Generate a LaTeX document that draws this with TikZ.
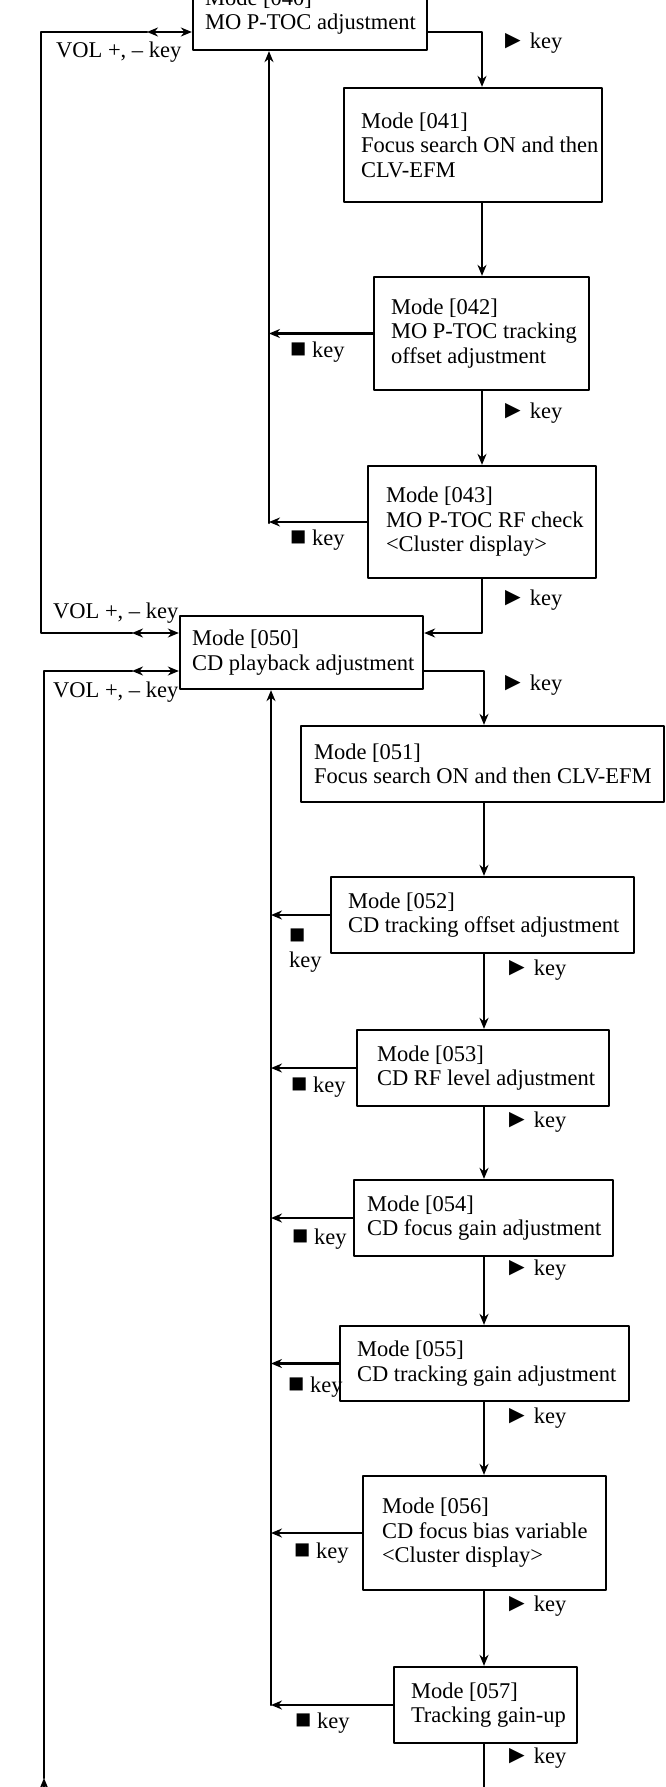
\documentclass[tikz,border=0pt]{standalone}
\usepackage{fontspec}
\setmainfont{Liberation Serif}
\usetikzlibrary{arrows.meta,positioning}
\newcommand{\playkey}{\raisebox{-0.5pt}{\scalebox{1.15}{►}}\hspace{4pt}key}
\newcommand{\stopkey}{\raisebox{-0.5pt}{\scalebox{1.2}{■}}}

\begin{document}
\begin{tikzpicture}[line cap=round,line join=round,line width=2.3pt,>={Stealth[length=11pt,width=9pt]},x=1.0pt,y=-1.0pt,
  every node/.style={font=\fontsize{22.5}{24.5}\selectfont},
  mbox/.style={draw,inner sep=0pt},
  mtxt/.style={align=left,inner sep=0pt},
  klab/.style={anchor=west,inner sep=0pt}]
\useasboundingbox (0,0) rectangle (665,1787);
\clip (0,0) rectangle (665,1787);

% mode boxes
\node[mbox,minimum width=234,minimum height=76] (m040) at (310,12) {};
\node[mtxt,right=12pt of m040.west] (t040) {Mode [040]\\MO P-TOC adjustment};
\node[mbox,minimum width=258,minimum height=114] (m041) at (473,145) {};
\node[mtxt,right=17pt of m041.west] (t041) {Mode [041]\\Focus search ON and then\\CLV-EFM};
\node[mbox,minimum width=215,minimum height=113] (m042) at (481.5,333.5) {};
\node[mtxt,right=17pt of m042.west] (t042) {Mode [042]\\MO P-TOC tracking\\offset adjustment};
\node[mbox,minimum width=228,minimum height=112] (m043) at (482,522) {};
\node[mtxt,right=18pt of m043.west] (t043) {Mode [043]\\MO P-TOC RF check\\<Cluster display>};
\node[mbox,minimum width=243,minimum height=73] (m050) at (301.5,652.5) {};
\node[mtxt,right=12pt of m050.west] (t050) {Mode [050]\\CD playback adjustment};
\node[mbox,minimum width=363,minimum height=76] (m051) at (482.5,764) {};
\node[mtxt,right=13pt of m051.west] (t051) {Mode [051]\\Focus search ON and then CLV-EFM};
\node[mbox,minimum width=303,minimum height=76] (m052) at (482.5,915) {};
\node[mtxt,right=17pt of m052.west] (t052) {Mode [052]\\CD tracking offset adjustment};
\node[mbox,minimum width=252,minimum height=76] (m053) at (483,1068) {};
\node[mtxt,right=20pt of m053.west] (t053) {Mode [053]\\CD RF level adjustment};
\node[mbox,minimum width=259,minimum height=76] (m054) at (483.5,1218) {};
\node[mtxt,right=13pt of m054.west] (t054) {Mode [054]\\CD focus gain adjustment};
\node[mbox,minimum width=289,minimum height=75] (m055) at (484.5,1363.5) {};
\node[mtxt,right=17pt of m055.west] (t055) {Mode [055]\\CD tracking gain adjustment};
\node[mbox,minimum width=243,minimum height=114] (m056) at (484.5,1533) {};
\node[mtxt,right=19pt of m056.west] (t056) {Mode [056]\\CD focus bias variable\\<Cluster display>};
\node[mbox,minimum width=183,minimum height=76] (m057) at (485.5,1705) {};
\node[mtxt,right=17pt of m057.west] (t057) {Mode [057]\\Tracking gain-up};

% play key flow
\coordinate (r040) at (482,32);
\coordinate (r043) at (482,633);
\coordinate (r050) at (484,671);
\coordinate (r057) at (484,1810);
\draw[->] (m040.east |- r040) -- (r040) -- (r040 |- m041.north);
\draw[->] (m041.south -| r040) -- (m042.north -| r040);
\draw[->] (m042.south -| r040) -- (m043.north -| r040);
\draw[->] (m043.south -| r043) -- (r043) -- (m050.east |- r043);
\draw[->] (m050.east |- r050) -- (r050) -- (r050 |- m051.north);
\foreach \a/\b in {m051/m052,m052/m053,m053/m054,m054/m055,m055/m056,m056/m057}
\draw[->] (\a.south -| r050) -- (\b.north -| r050);
\draw (m057.south -| r050) -- (r057);

% stop key returns
\coordinate (c1) at (269,523);
\coordinate (c2) at (271,1705);
\foreach \b in {m042,m043}
\draw[->] (\b.west) -- (\b.west -| c1);
\draw[->] (c1) -- (c1 |- m040.south);
\foreach \b in {m052,m053,m054,m055,m056,m057}
\draw[->] (\b.west) -- (\b.west -| c2);
\draw[->] (c2) -- (c2 |- m050.south);

% VOL +,- key loops
\coordinate (o1a) at (41,32);
\coordinate (o1b) at (41,633);
\coordinate (v1) at (147,32);
\coordinate (v2) at (132,633);
\coordinate (o2a) at (44,671);
\coordinate (v3) at (132,671);
\coordinate (o2b) at (44,1778);
\coordinate (o2c) at (44,1810);
\draw (v1) -- (o1a) -- (o1b) -- (v2);
\draw[<->] (v1) -- (m040.west |- v1);
\draw[<->] (v2) -- (m050.west |- v2);
\draw (o2b) -- (o2a) -- (v3);
\draw[<->] (v3) -- (m050.west |- v3);
\draw[->] (o2c) -- (o2b);

% key labels
\node[klab] (vol1) at (55,52) {VOL +, – key};
\node[klab] (vol2) at (52,613) {VOL +, – key};
\node[klab] (vol3) at (52,692) {VOL +, – key};
\foreach \y [count=\i] in {43,413,600,685}
\node[klab] (pk\i) at (499,\y) {\playkey};
\foreach \y [count=\i from 5] in {970,1122,1270,1418,1606,1758}
\node[klab] (pk\i) at (503,\y) {\playkey};
\foreach \x/\y [count=\i] in {289/352,289/540,290/1087,291/1239,287/1387,293/1553,294/1723}
\node[klab] (sk\i) at (\x,\y) {\stopkey{} key};
\node[klab,align=left] (sk8) at (288,951) {\stopkey\\key};

\end{tikzpicture}
\end{document}
